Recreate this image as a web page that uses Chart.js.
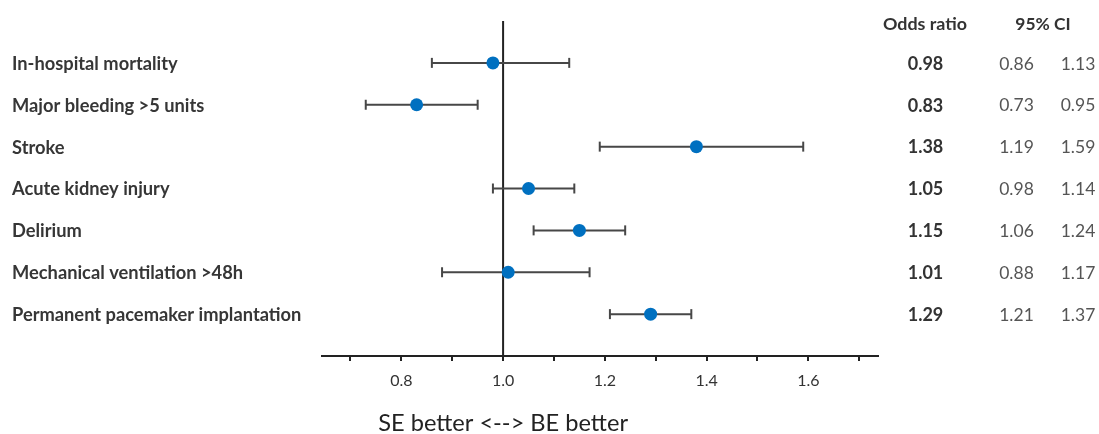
<!DOCTYPE html>
<html>
<head>
<meta charset="utf-8">
<script src="https://cdn.jsdelivr.net/npm/chart.js@4.4.1/dist/chart.umd.min.js"></script>
<style>
  html, body { margin: 0; padding: 0; background: #ffffff; }
  #wrap { width: 1099px; height: 434px; position: relative; }
</style>
</head>
<body>
<div id="wrap"><canvas id="c" width="1099" height="434"></canvas></div>
<script>
const CATEGORIES = [
  "In-hospital mortality",
  "Major bleeding >5 units",
  "Stroke",
  "Acute kidney injury",
  "Delirium",
  "Mechanical ventilation >48h",
  "Permanent pacemaker implantation"
];
const ODDS_RATIO = [0.98, 0.83, 1.38, 1.05, 1.15, 1.01, 1.29];
const CI_LOW     = [0.86, 0.73, 1.19, 0.98, 1.06, 0.88, 1.21];
const CI_HIGH    = [1.13, 0.95, 1.59, 1.14, 1.24, 1.17, 1.37];
const REF_VALUE  = 1.0;
const TICK_VALUES = [0.7, 0.8, 0.9, 1.0, 1.1, 1.2, 1.3, 1.4, 1.5, 1.6, 1.7];
const TICK_LABELS = ["0.8", "1.0", "1.2", "1.4", "1.6"];
const HEADER_OR = "Odds ratio";
const HEADER_CI = "95% CI";
const AXIS_TITLE = "SE better <--> BE better";

const FONT = "Lato, 'Open Sans', sans-serif";

// CI segments separated by gaps
const ciData = [];
CATEGORIES.forEach((c, i) => {
  ciData.push({x: CI_LOW[i], y: i});
  ciData.push({x: CI_HIGH[i], y: i});
  ciData.push({x: CI_HIGH[i], y: null});
});
const orData = CATEGORIES.map((c, i) => ({x: ODDS_RATIO[i], y: i}));

const textPlugin = {
  id: 'forestText',
  afterDraw(chart) {
    const ctx = chart.ctx;
    const ys = chart.scales.y;
    const xs = chart.scales.x;
    ctx.save();
    ctx.textBaseline = 'middle';
    // row labels
    ctx.fillStyle = '#363636';
    ctx.textAlign = 'left';
    ctx.font = "bold 18.3px " + FONT;
    CATEGORIES.forEach((c, i) => {
      ctx.fillText(c, 12, ys.getPixelForValue(i) + 1);
    });
    // headers
    const hy = ys.getPixelForValue(-1) + 3;
    ctx.textAlign = 'center';
    ctx.fillStyle = '#333333';
    ctx.font = "bold 17.9px " + FONT;
    ctx.fillText(HEADER_OR, 925, hy);
    ctx.font = "bold 17.4px " + FONT;
    ctx.fillText(HEADER_CI, 1043, hy);
    // values
    CATEGORIES.forEach((c, i) => {
      const y = ys.getPixelForValue(i) + 1;
      ctx.font = "bold 18px " + FONT;
      ctx.fillStyle = '#333333';
      ctx.fillText(ODDS_RATIO[i].toFixed(2), 925.5, y);
      ctx.font = "17.5px " + FONT;
      ctx.fillStyle = '#555555';
      ctx.fillText(CI_LOW[i].toFixed(2), 1016.5, y);
      ctx.fillText(CI_HIGH[i].toFixed(2), 1078, y);
    });
    // bottom title centred under the reference line
    ctx.font = "23.6px " + FONT;
    ctx.fillStyle = '#222222';
    ctx.fillText(AXIS_TITLE, xs.getPixelForValue(REF_VALUE), 423);
    ctx.restore();
  }
};

new Chart(document.getElementById('c'), {
  type: 'scatter',
  data: {
    datasets: [
      {
        label: 'OR',
        data: orData,
        pointRadius: 6.5,
        pointHoverRadius: 6.5,
        pointBackgroundColor: '#0070C0',
        pointBorderColor: '#0070C0',
        pointBorderWidth: 0,
        showLine: false,
        order: 0
      },
      {
        label: 'CI',
        data: ciData,
        showLine: true,
        spanGaps: false,
        borderColor: '#474747',
        borderWidth: 2,
        pointStyle: 'line',
        rotation: 90,
        pointRadius: 5,
        pointHoverRadius: 5,
        pointBorderColor: '#474747',
        pointBorderWidth: 2,
        order: 1
      },
      {
        label: 'ref',
        data: [{x: REF_VALUE, y: -1}, {x: REF_VALUE, y: 7}],
        showLine: true,
        borderColor: '#222222',
        borderWidth: 2,
        pointRadius: 0,
        order: 2
      }
    ]
  },
  options: {
    responsive: false,
    animation: false,
    layout: { padding: { left: 322, right: 221, top: 21, bottom: 0 } },
    plugins: {
      legend: { display: false },
      tooltip: { enabled: false },
      title: { display: false }
    },
    scales: {
      x: {
        type: 'linear',
        min: 0.644,
        max: 1.737,
        afterBuildTicks: (s) => { s.ticks = TICK_VALUES.map(v => ({value: v})); },
        afterFit: (s) => { s.height = 78; },
        grid: {
          drawOnChartArea: false,
          drawTicks: true,
          tickLength: 5,
          color: '#222222',
          lineWidth: 2
        },
        border: { display: true, color: '#222222', width: 2 },
        ticks: {
          padding: 10,
          color: '#333333',
          font: { family: FONT, size: 16 },
          maxRotation: 0,
          autoSkip: false,
          callback: (v) => {
            const s = Number(v).toFixed(1);
            return TICK_LABELS.includes(s) ? s : '';
          }
        }
      },
      y: {
        type: 'linear',
        display: false,
        reverse: true,
        min: -1,
        max: 7
      }
    }
  },
  plugins: [textPlugin]
});
</script>
</body>
</html>
